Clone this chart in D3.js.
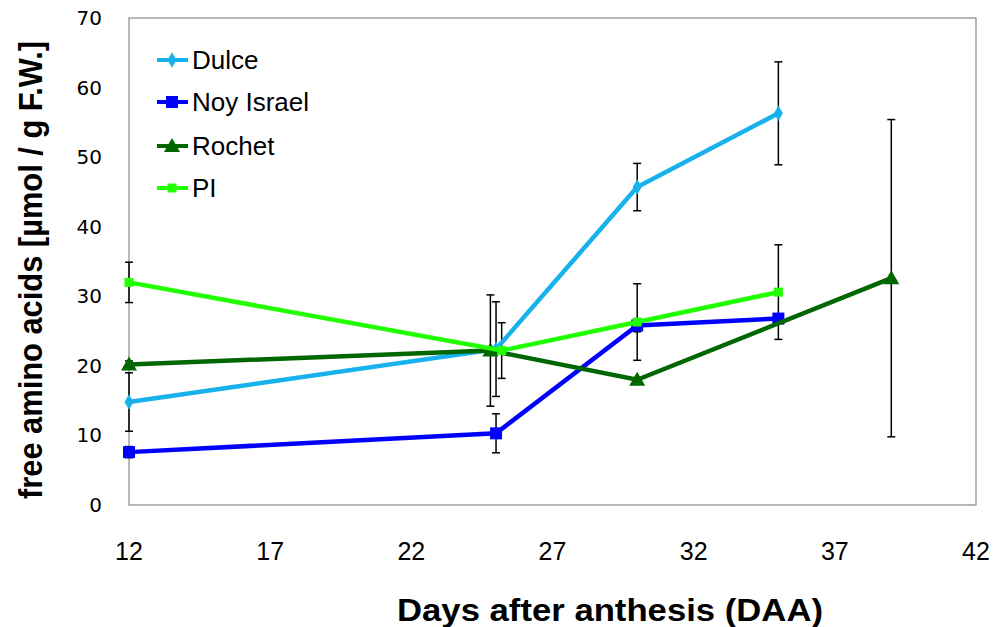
<!DOCTYPE html>
<html><head><meta charset="utf-8">
<script src="https://cdn.jsdelivr.net/npm/d3@7"></script>
<style>body{margin:0;background:#fff}svg{display:block}</style>
</head><body><svg id="c" width="994" height="627"></svg>
<script>
const seriesNames = ["Dulce","Noy Israel","Rochet","PI"];
const seriesColors = ["#17B1EC","#0000FF","#006600","#22FF00"];
const seriesMarkers = ["diamond","square","triangle","smallsquare"];
const dulceX = [12,25,30,35];
const dulceY = [14.8,22.4,45.7,56.3];
const dulceErr = [4.2,6.8,3.4,7.4];
const noyX = [12,25,30,35];
const noyY = [7.6,10.3,25.8,26.8];
const noyErr = [0.8,2.8,0.9,0.5];
const rochetX = [12,24.8,30,39];
const rochetY = [20.2,22.2,18.0,32.6];
const rochetErr = [0.5,8.0,0.3,22.8];
const piX = [12,25.2,30,35];
const piY = [32.0,22.2,26.3,30.6];
const piErr = [2.9,4.0,5.5,6.8];
const xTicks = [12,17,22,27,32,37,42];
const yTicks = [0,10,20,30,40,50,60,70];

const allX=[dulceX,noyX,rochetX,piX], allY=[dulceY,noyY,rochetY,piY], allE=[dulceErr,noyErr,rochetErr,piErr];
const series = seriesNames.map((n,i)=>({name:n,color:seriesColors[i],marker:seriesMarkers[i],
  pts:allX[i].map((x,j)=>({x,y:allY[i][j],e:allE[i][j]}))}));

const svg=d3.select("#c");
const L=129,R=976,T=18,B=505;
const x=d3.scaleLinear().domain([12,42]).range([L,R]);
const y=d3.scaleLinear().domain([0,70]).range([B,T]);

svg.append("rect").attr("x",L).attr("y",T).attr("width",R-L).attr("height",B-T)
  .attr("fill","none").attr("stroke","#888").attr("stroke-width",1.2);

// y tick labels
svg.append("g").selectAll("text").data(yTicks).join("text")
  .attr("x",102).attr("y",d=>y(d)+7).attr("text-anchor","end")
  .attr("font-family","DejaVu Sans").attr("font-size",20).attr("fill","#000").text(d=>d);
// x tick labels
svg.append("g").selectAll("text").data(xTicks).join("text")
  .attr("x",d=>x(d)).attr("y",560).attr("text-anchor","middle")
  .attr("font-family","Liberation Sans, Arial").attr("font-size",25).attr("fill","#000").text(d=>d);

// titles
svg.append("text").attr("x",610).attr("y",621).attr("text-anchor","middle")
  .attr("font-family","Liberation Sans, Arial").attr("font-weight","bold").attr("font-size",32)
  .attr("textLength",426).attr("lengthAdjust","spacingAndGlyphs").text("Days after anthesis (DAA)");
svg.append("text").attr("transform","translate(42,270) rotate(-90)").attr("text-anchor","middle")
  .attr("font-family","Liberation Sans, Arial").attr("font-weight","bold").attr("font-size",33)
  .attr("textLength",458).attr("lengthAdjust","spacingAndGlyphs").text("free amino acids [µmol / g F.W.]");

const line=d3.line().x(d=>x(d.x)).y(d=>y(d.y));
function marker(g,type,color){
  if(type==="diamond") g.append("path").attr("d",d3.symbol(d3.symbolDiamond,70)()).attr("fill",color);
  else if(type==="square") g.append("rect").attr("x",-6).attr("y",-6).attr("width",12).attr("height",12).attr("fill",color);
  else if(type==="smallsquare") g.append("rect").attr("x",-4.5).attr("y",-4.5).attr("width",9).attr("height",9).attr("fill",color);
  else g.append("path").attr("d","M0,-8L8,6L-8,6Z").attr("fill",color);
}
// error bars
series.forEach(s=>{
  const g=svg.append("g").attr("stroke","#000").attr("stroke-width",1.5);
  s.pts.forEach(p=>{
    const cx=x(p.x);
    g.append("line").attr("x1",cx).attr("x2",cx).attr("y1",y(p.y-p.e)).attr("y2",y(p.y+p.e));
    [p.y-p.e,p.y+p.e].forEach(v=>g.append("line").attr("x1",cx-4).attr("x2",cx+4).attr("y1",y(v)).attr("y2",y(v)));
  });
});
// lines and markers
series.forEach(s=>{
  svg.append("path").datum(s.pts).attr("d",line).attr("fill","none").attr("stroke",s.color).attr("stroke-width",4.5);
  s.pts.forEach(p=>marker(svg.append("g").attr("transform",`translate(${x(p.x)},${y(p.y)})`),s.marker,s.color));
});

// legend
const legY=[60,102,146,188];
series.forEach((s,i)=>{
  const g=svg.append("g").attr("transform",`translate(0,${legY[i]})`);
  g.append("line").attr("x1",157).attr("x2",188).attr("y1",0).attr("y2",0).attr("stroke",s.color).attr("stroke-width",4);
  marker(g.append("g").attr("transform","translate(172,0)"),s.marker,s.color);
  g.append("text").attr("x",192).attr("y",9).attr("font-family","Liberation Sans, Arial").attr("font-size",26).text(s.name);
});
</script></body></html>
